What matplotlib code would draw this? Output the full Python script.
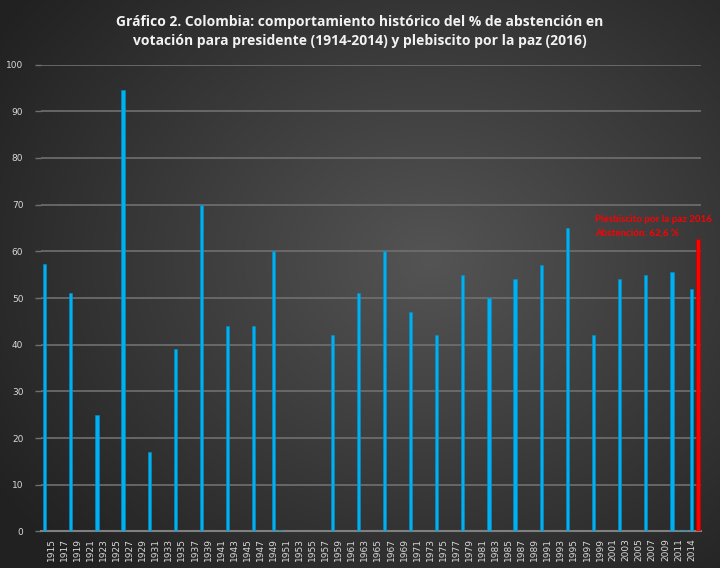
import numpy as np
import matplotlib.pyplot as plt

# categories on the x axis (one per year, then 2014 and 2016)
years = list(range(1914, 2013)) + [2014, 2016]

# presidential elections: % abstention
elec_years = [1914, 1918, 1922, 1926, 1930, 1934, 1938, 1942, 1946, 1949, 1950,
              1958, 1962, 1966, 1970, 1974, 1978, 1982, 1986, 1990, 1994, 1998,
              2002, 2006, 2010, 2011, 2012, 2014]
elec_abst = [57.3, 51.0, 25.0, 94.6, 17.0, 39.0, 70.0, 44.0, 44.0, 60.0, 0.3,
             42.0, 51.0, 60.0, 47.0, 42.0, 55.0, 50.0, 54.0, 57.0, 65.0, 42.0,
             54.0, 55.0, 55.6, 0.3, 0.3, 52.0]

# plebiscite for peace
pleb_year = 2016
pleb_abst = 62.6

W, H = 720, 568
fig = plt.figure(figsize=(W / 100, H / 100), dpi=100)

# radial dark-gray background
bg = fig.add_axes([0, 0, 1, 1])
yy, xx = np.mgrid[0:H, 0:W]
r = np.sqrt(((xx - 430) / 520) ** 2 + ((yy - 260) / 420) ** 2)
r = np.clip(r, 0, 1)
shade = 0.33 - 0.20 * r
bg.imshow(np.dstack([shade] * 3), extent=[0, 1, 0, 1], aspect='auto')
bg.axis('off')

ax = fig.add_axes([0.0575, 0.0643, 0.9166, 0.8221])
ax.patch.set_alpha(0)

idx = {y: i for i, y in enumerate(years)}
ax.bar([idx[y] for y in elec_years], elec_abst, width=0.5, color='#00b0f0',
       edgecolor='#0090c8', lw=0.4, zorder=3)
ax.bar(idx[pleb_year], pleb_abst, width=0.72, color='#ff0000',
       edgecolor='#c00000', lw=0.4, zorder=3)

ax.text(idx[pleb_year] - 15.8, 66.9, 'Plesbiscito por la paz 2016',
        color='#ff0000', fontsize=7, fontweight='bold', family='Lato',
        va='center', ha='left', zorder=4)
ax.text(idx[pleb_year] - 15.8, 63.9, f'Abstención: {pleb_abst:.1f} %'.replace('.', ','),
        color='#ff0000', fontsize=7, fontweight='bold', family='Lato',
        va='center', ha='left', zorder=4)

ax.set_xlim(-0.5, len(years) - 0.5)
ax.set_ylim(0, 100)
ax.set_yticks(range(0, 101, 10))
ax.grid(axis='y', color='#707070', lw=1.2, zorder=1)
ax.set_axisbelow(True)

tick_pos = list(range(1, len(years) - 1, 2))
ax.set_xticks(tick_pos)
ax.set_xticklabels([str(years[i]) for i in tick_pos], rotation=90)
ax.tick_params(axis='x', length=0, pad=5, labelsize=6.5, labelcolor='#d9d9d9')
ax.tick_params(axis='y', length=4, width=1, color='#707070', pad=9,
               labelsize=6.5, labelcolor='#d9d9d9')
for s in ['top', 'right', 'left']:
    ax.spines[s].set_visible(False)
ax.spines['bottom'].set_color('#808080')
ax.spines['bottom'].set_linewidth(1.5)

fig.text(0.5, 0.973, 'Gráfico 2. Colombia: comportamiento histórico del % de abstención en\n'
         'votación para presidente (1914-2014) y plebiscito por la paz (2016)',
         ha='center', va='top', color='#f2f2f2', fontsize=10, fontweight='bold',
         family='Open Sans', linespacing=1.45)

fig.savefig('out.png', dpi=100)
